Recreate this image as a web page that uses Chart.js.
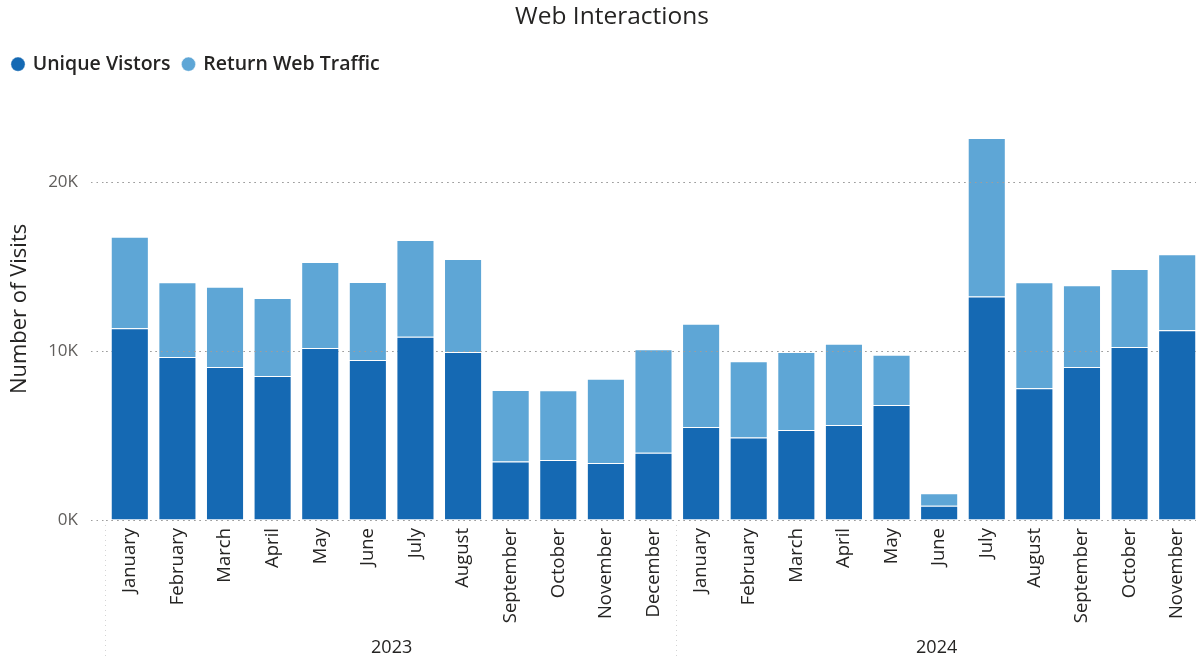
<!DOCTYPE html>
<html>
<head>
<meta charset="utf-8">
<title>Web Interactions</title>
<script src="https://cdn.jsdelivr.net/npm/chart.js@4.4.1/dist/chart.umd.min.js"></script>
<style>
    html, body { margin: 0; padding: 0; background: #fff; overflow: hidden; }
    /* el último mes queda cortado en el borde derecho */
    #contenedor { position: relative; width: 1201px; height: 659px; }
</style>
</head>
<body>
<div id="contenedor"><canvas id="graficoVisitas"></canvas></div>
<script>
// === DATOS ===
const meses = ['January', 'February', 'March', 'April', 'May', 'June', 'July', 'August',
    'September', 'October', 'November', 'December',
    'January', 'February', 'March', 'April', 'May', 'June', 'July', 'August',
    'September', 'October', 'November'];
const anios = ['2023', '2023', '2023', '2023', '2023', '2023', '2023', '2023',
    '2023', '2023', '2023', '2023',
    '2024', '2024', '2024', '2024', '2024', '2024', '2024', '2024',
    '2024', '2024', '2024'];
const visitantesUnicos = [11360, 9660, 9060, 8530, 10190, 9480, 10860, 9950, 3460, 3550, 3380, 3990,
    5510, 4880, 5330, 5630, 6810, 850, 13230, 7800, 9060, 10250, 11240];
const traficoRetorno = [5420, 4420, 4760, 4620, 5090, 4620, 5730, 5510, 4240, 4130, 4990, 6120,
    6120, 4520, 4620, 4810, 2980, 730, 9400, 6280, 4840, 4620, 4500];
const ejeYTicks = [0, 10000, 20000];
const ejeYMax = 25000;

const FUENTE = "'Open Sans', 'Noto Sans', sans-serif";
const TEXTO = '#252423';
const GRIS_REJILLA = '#9e9e9e';
const PUNTEADO = [1.5, 4];

// Etiquetas de año debajo de los meses, con separadores punteados
const gruposAnio = {
    id: 'gruposAnio',
    afterDraw(chart) {
        const { ctx, chartArea } = chart;
        const x = chart.scales.x;
        const paso = x.getPixelForValue(1) - x.getPixelForValue(0);
        const visible = 1196; // ancho de la ventana
        ctx.save();
        ctx.font = '18px ' + FUENTE;
        ctx.fillStyle = TEXTO;
        ctx.textAlign = 'center';
        ctx.textBaseline = 'middle';
        let inicio = 0;
        for (let i = 1; i <= anios.length; i++) {
            if (i < anios.length && anios[i] === anios[inicio]) continue;
            const izq = x.getPixelForValue(inicio) - paso / 2;
            const der = Math.min(x.getPixelForValue(i - 1) + paso / 2, visible);
            const xl = Math.round(izq) - 0.5;
            ctx.beginPath();
            ctx.setLineDash([1, 4]);
            ctx.strokeStyle = '#d4d4d4';
            ctx.lineWidth = 1;
            ctx.moveTo(xl, chartArea.bottom + 5);
            ctx.lineTo(xl, chart.height);
            ctx.stroke();
            ctx.fillText(anios[inicio], (izq + der) / 2, chart.height - 11);
            inicio = i;
        }
        ctx.restore();
    }
};

// La rejilla se ve encima de las barras claras (retorno) pero no de las oscuras:
// se repinta justo después del dataset 1, y las barras oscuras van encima
const rejillaSobreRetorno = {
    id: 'rejillaSobreRetorno',
    afterDatasetDraw(chart, args) {
        if (args.index !== 1) return;
        const { ctx, chartArea } = chart;
        const y = chart.scales.y;
        ctx.save();
        ctx.setLineDash(PUNTEADO);
        ctx.strokeStyle = GRIS_REJILLA;
        ctx.lineWidth = 1;
        ejeYTicks.forEach(v => {
            const py = Math.round(y.getPixelForValue(v) - 0.5) + 0.5;
            ctx.beginPath();
            ctx.moveTo(chartArea.left, py);
            ctx.lineTo(chartArea.right, py);
            ctx.stroke();
        });
        ctx.restore();
    }
};

// Más aire entre la leyenda y el área del gráfico
const espacioLeyenda = {
    id: 'espacioLeyenda',
    beforeInit(chart) {
        if (!chart.legend) return;
        const fitOriginal = chart.legend.fit;
        chart.legend.fit = function() {
            fitOriginal.call(this);
            this.height += 14;
        };
    }
};

// El título va un poco corrido a la derecha
const ajusteTitulo = {
    id: 'ajusteTitulo',
    afterLayout(chart) {
        if (chart.titleBlock) chart.titleBlock.left = 23;
    }
};

const ctx = document.getElementById('graficoVisitas').getContext('2d');
new Chart(ctx, {
    type: 'bar',
    data: {
        labels: meses,
        datasets: [
            {
                label: 'Unique Vistors',
                data: visitantesUnicos,
                backgroundColor: '#1569b3',
                borderColor: 'rgba(255,255,255,0.35)',
                borderWidth: 1
            },
            {
                label: 'Return Web Traffic',
                data: traficoRetorno,
                backgroundColor: '#5ea6d6',
                borderColor: 'rgba(255,255,255,0.45)',
                borderWidth: 1
            }
        ]
    },
    options: {
        responsive: true,
        maintainAspectRatio: false,
        animation: false,
        datasets: { bar: { categoryPercentage: 1, barPercentage: 0.8 } },
        plugins: {
            title: {
                display: true,
                text: 'Web Interactions',
                color: TEXTO,
                font: { family: FUENTE, size: 24.5, weight: 'normal' },
                padding: { top: 2, bottom: 10 }
            },
            legend: {
                position: 'top',
                align: 'start',
                labels: {
                    usePointStyle: true,
                    pointStyle: 'circle',
                    boxWidth: 10,
                    boxHeight: 10,
                    padding: 13,
                    color: TEXTO,
                    font: { family: FUENTE, size: 19.5, weight: '600' }
                }
            },
            tooltip: { enabled: false }
        },
        scales: {
            x: {
                stacked: true,
                grid: { display: false, drawTicks: false },
                border: { display: false },
                ticks: {
                    color: TEXTO,
                    font: { family: FUENTE, size: 18.5 },
                    minRotation: 90,
                    maxRotation: 90,
                    autoSkip: false,
                    padding: 8
                },
                afterFit(scale) {
                    scale.height = 139;
                    scale.paddingLeft = 0;
                    scale.paddingRight = 0;
                }
            },
            y: {
                stacked: true,
                min: 0,
                max: ejeYMax,
                grid: {
                    color: GRIS_REJILLA,
                    tickColor: GRIS_REJILLA,
                    tickLength: 15,
                    tickBorderDash: PUNTEADO
                },
                border: { display: false, dash: PUNTEADO },
                ticks: {
                    color: '#605e5c',
                    font: { family: FUENTE, size: 17 },
                    padding: 13,
                    callback: v => (v / 1000) + 'K'
                },
                afterBuildTicks(scale) {
                    scale.ticks = ejeYTicks.map(v => ({ value: v }));
                },
                title: {
                    display: true,
                    text: 'Number of Visits',
                    color: TEXTO,
                    font: { family: FUENTE, size: 22 },
                    padding: { top: 7, bottom: 4 }
                },
                afterFit(scale) { scale.width = 106; }
            }
        }
    },
    plugins: [gruposAnio, rejillaSobreRetorno, espacioLeyenda, ajusteTitulo]
});
</script>
</body>
</html>
